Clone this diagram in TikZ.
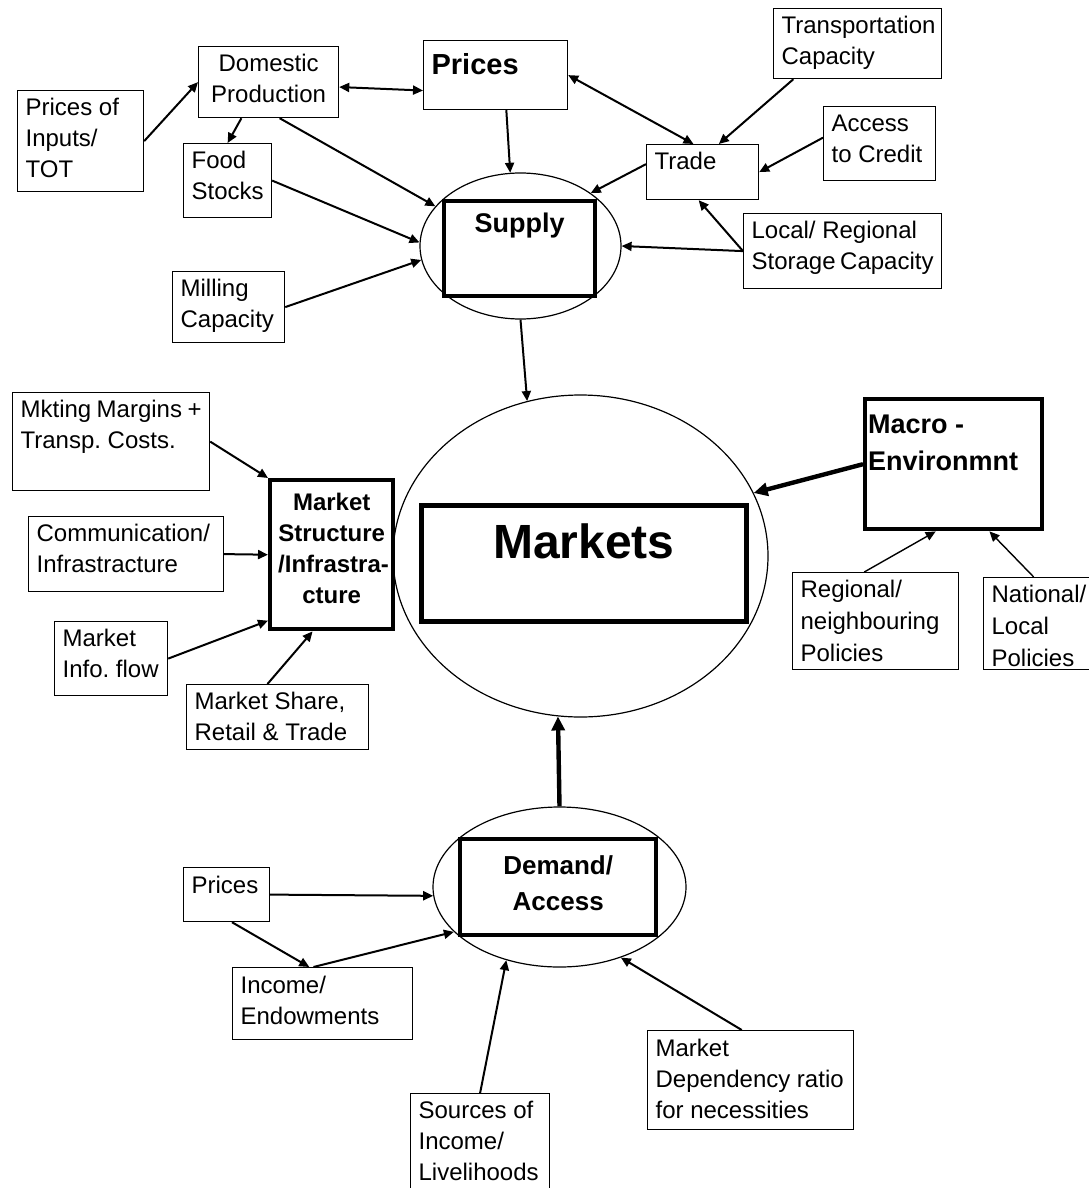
\documentclass[tikz,border=0pt]{standalone}
\usepackage{fontspec}
\setmainfont{Liberation Sans}
\usetikzlibrary{shapes.geometric,arrows.meta}
\hyphenpenalty=10000
\exhyphenpenalty=10000
\frenchspacing
\newcommand{\boxtext}[3]{\parbox[c][#2][t]{#1}{\raggedright #3}}

\begin{document}
\begin{tikzpicture}[
    x=0.5pt, y=-0.5pt,
    box/.style={rectangle, draw, line width=0.6pt, anchor=north west, inner sep=4pt, font=\fontsize{12}{15.5}\selectfont},
    keybox/.style={box, line width=2.2pt, font=\bfseries\fontsize{12}{15.5}\selectfont},
    ring/.style={ellipse, draw, line width=0.6pt, inner sep=0pt},
    arrow/.style={-{Triangle[length=5pt,width=4.5pt]}, line width=1pt},
    both/.style={{Triangle[length=5pt,width=4.5pt]}-{Triangle[length=5pt,width=4.5pt]}, line width=1pt},
    light/.style={-{Triangle[length=5pt,width=4.5pt]}, line width=0.7pt},
    heavy/.style={-{Triangle[length=7pt,width=6.5pt]}, line width=2.2pt}
]
\useasboundingbox (0,0) rectangle (1088,1188);

% Supply side
\node[box] (inp) at (17,90) {\boxtext{55pt}{42.5pt}{Prices of\\Inputs/\\TOT}};
\node[box] (dom) at (198,46) {\boxtext{62pt}{27.5pt}{\centering Domestic\\Production}};
\node[box, font=\bfseries\fontsize{14.5}{17}\selectfont] (prc) at (423,40) {\boxtext{64pt}{26.5pt}{\vspace*{2.5pt}Prices}};
\node[box] (food) at (183,143) {\boxtext{36pt}{29pt}{Food\\Stocks}};
\node[box] (mill) at (172,271) {\boxtext{48pt}{27.5pt}{Milling\\Capacity}};
\node[box] (trn) at (773,8) {\boxtext{76pt}{27pt}{Transportation\\Capacity}};
\node[box] (acc) at (823,106) {\boxtext{48pt}{29pt}{Access\\to Credit}};
\node[box] (trd) at (646,144) {\boxtext{48pt}{19.5pt}{Trade}};
\node[box] (sto) at (743,213) {\boxtext{91pt}{29.5pt}{Local/ Regional\\Storage~Capacity}};
\node[ring, minimum width=100.5pt, minimum height=73pt] (sup) at (520.5,246) {};
\node[keybox, font=\bfseries\fontsize{13.5}{16}\selectfont] (supbox) at (442,199) {\boxtext{67.5pt}{39.5pt}{\centering\vspace*{2pt}Supply}};

% Market structure
\node[box] (mmt) at (12,392) {\boxtext{90.5pt}{41pt}{Mkting~Margins~+\\Transp. Costs.}};
\node[box] (com) at (28,516) {\boxtext{89.5pt}{29.5pt}{Communication/\\Infrastracture}};
\node[box] (inf) at (54,621) {\boxtext{48.5pt}{29pt}{Market\\Info.~flow}};
\node[box] (shr) at (186,684) {\boxtext{83pt}{24.5pt}{Market Share,\\Retail \& Trade}};
\node[keybox] (ms) at (268,478) {\boxtext{53.5pt}{66.5pt}{\centering\vspace*{2.5pt}Market\\Structure\\/Infrastra-\\cture}};

% Markets
\node[ring, minimum width=187.5pt, minimum height=161pt] (mkt) at (580.5,556) {};
\node[keybox, line width=2.3pt, font=\bfseries\fontsize{24}{28}\selectfont] (mktbox) at (419,503) {\boxtext{154.5pt}{50pt}{\centering\vspace*{5pt}Markets}};

% Macro environment
\node[keybox, inner xsep=1.5pt, font=\bfseries\fontsize{13.5}{18.5}\selectfont] (mac) at (863,397) {\boxtext{85.5pt}{57pt}{\vspace*{4pt}Macro -\\Environmnt}};
\node[box, font=\fontsize{12}{16}\selectfont] (reg) at (792,572) {\boxtext{75pt}{40.5pt}{Regional/\\neighbouring\\Policies}};
\node[box, font=\fontsize{12}{16}\selectfont] (nat) at (983,577) {\boxtext{47pt}{38pt}{National/\\Local\\Policies}};

% Demand side
\node[ring, minimum width=126.5pt, minimum height=80pt] (dem) at (559.5,887) {};
\node[keybox, font=\bfseries\fontsize{13}{18}\selectfont] (dembox) at (458,837) {\boxtext{90pt}{40pt}{\centering\vspace*{4pt}Demand/\\Access}};
\node[box] (lpr) at (183,867) {\boxtext{35pt}{19pt}{Prices}};
\node[box] (inc) at (232,967) {\boxtext{82pt}{28pt}{Income/\\Endowments}};
\node[box] (src) at (410,1093) {\boxtext{61.5pt}{42pt}{Sources of\\Income/\\Livelihoods}};
\node[box] (dep) at (647,1030) {\boxtext{95pt}{41.5pt}{Market\\Dependency~ratio\\for necessities}};

% Connectors
\draw[arrow] (inp.east) -- (dom.west);
\draw[both] (dom.-4.5) -- (prc.-168);
\draw[arrow] (dom.-127) -- (food.north);
\draw[arrow] (dom.-73) -- (sup.155);
\draw[arrow] (food.east) -- (sup.178);
\draw[arrow] (mill.east) -- (sup.-172);
\draw[arrow] (prc.-73) -- (sup.98);
\draw[both] (prc.east) -- (trd.108);
\draw[arrow] (trn.-151) -- (trd.60);
\draw[arrow] (acc.174) -- (trd.east);
\draw[arrow] (trd.172) -- (sup.37);
\draw[arrow] (sto.west) -- (trd.-98);
\draw[arrow] (sto.west) -- (sup.east);
\draw[arrow] (sup.south) -- (mkt.109.7);

\draw[arrow] (mmt.east) -- (ms.north west);
\draw[arrow] (com.east) -- (ms.west);
\draw[arrow] (inf.east) -- (ms.-134);
\draw[arrow] (shr.107) -- (ms.-104.5);

\draw[heavy] (mac.west) -- (mkt.20.2);
\draw[light] (reg.103) -- (mac.-105);
\draw[light] (nat.96) -- (mac.-62);

\draw[heavy] (dem.north) -- (mkt.-98);
\draw[arrow] (lpr.east) -- (dem.184.5);
\draw[arrow] (lpr.-79.5) -- (inc.110);
\draw[arrow] (inc.104) -- (dem.-157.7);
\draw[arrow] (src.north) -- (dem.-126);
\draw[arrow] (dep.100) -- (dem.-49.3);

\end{tikzpicture}
\end{document}
